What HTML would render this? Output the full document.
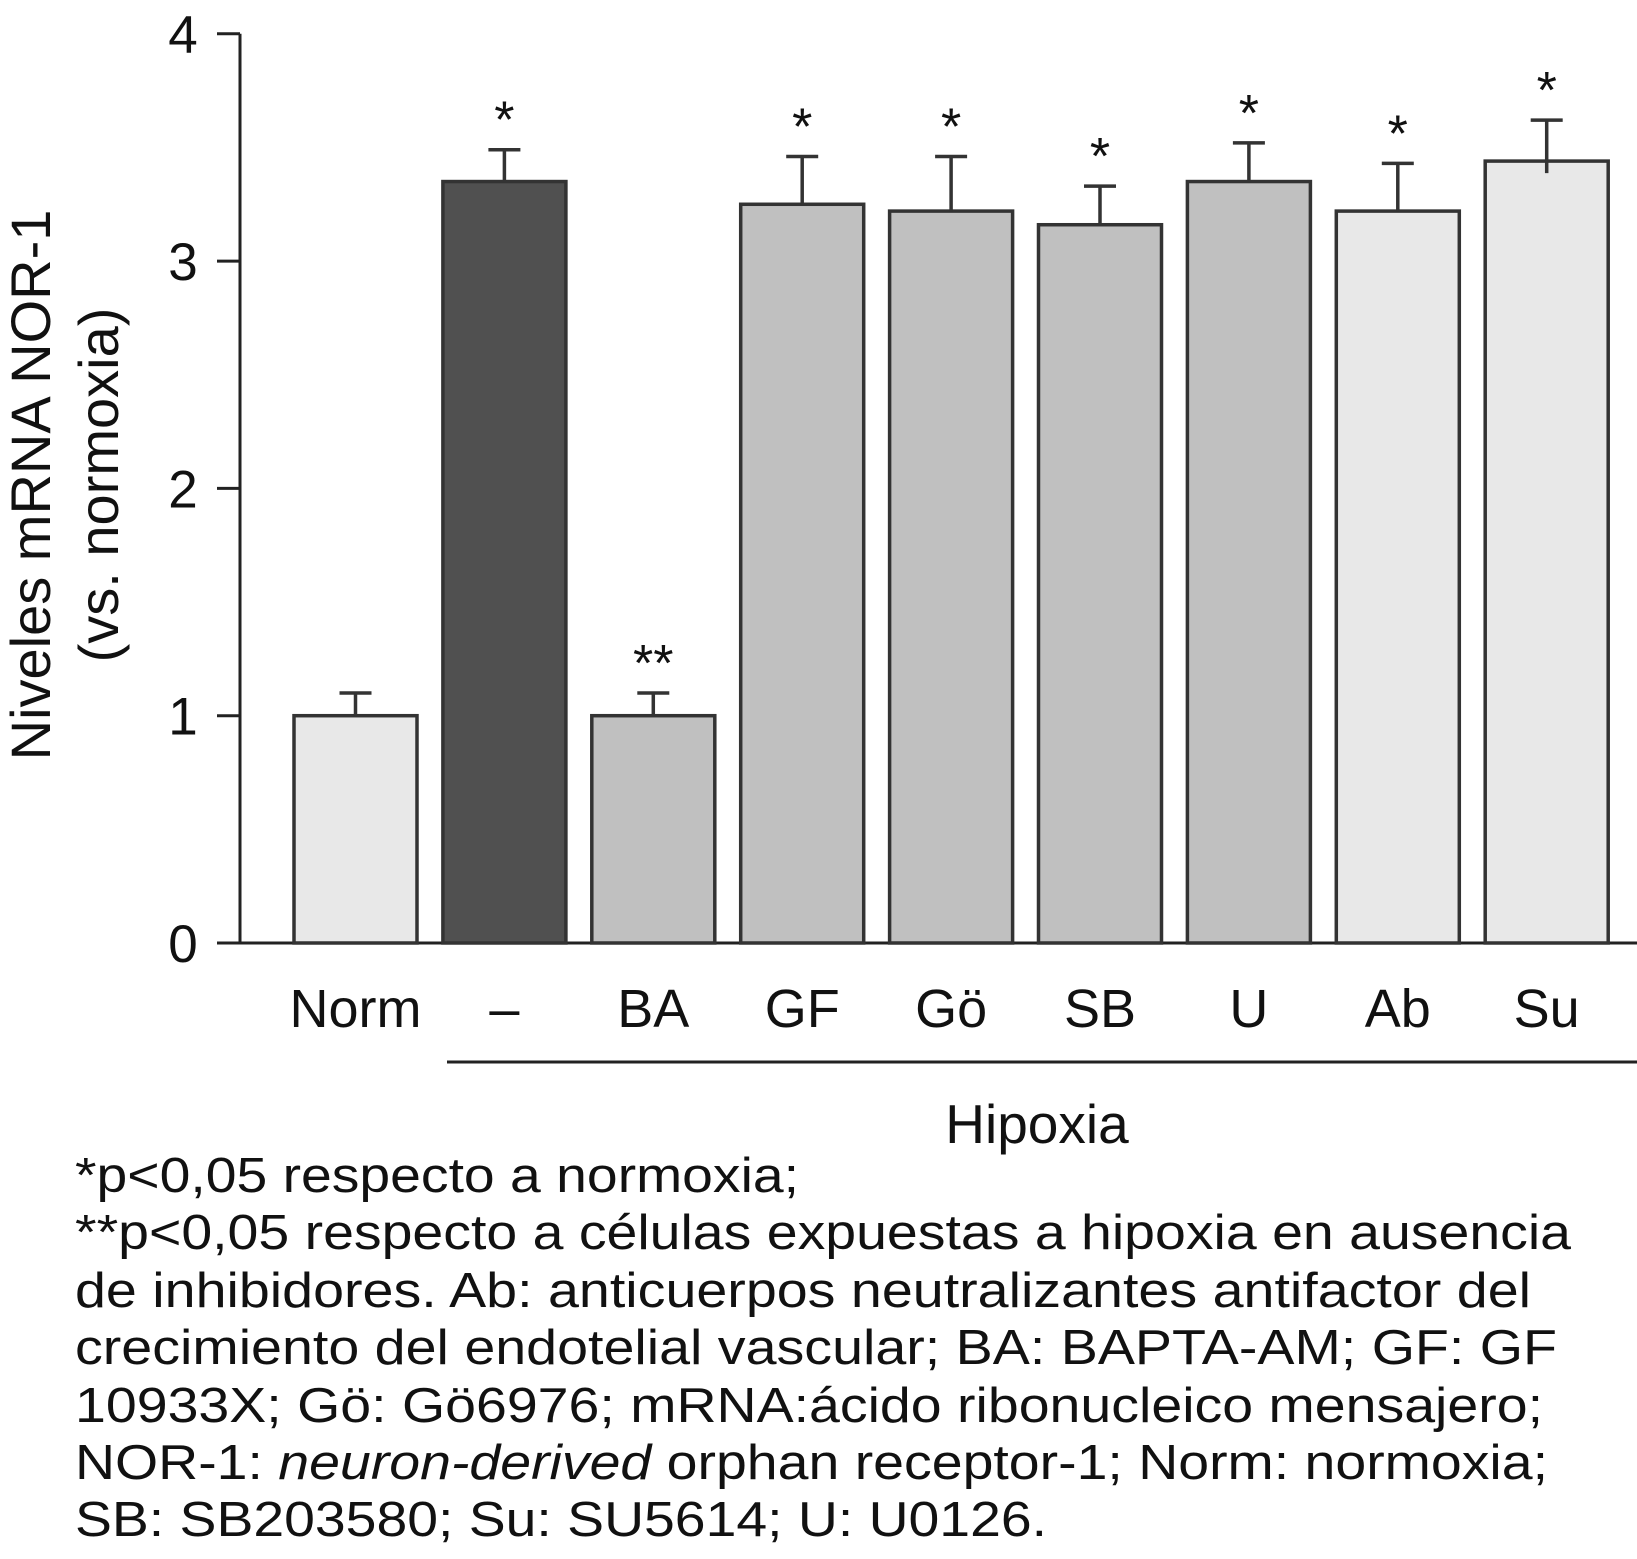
<!DOCTYPE html>
<html><head><meta charset="utf-8"><style>
html,body{margin:0;padding:0;background:#fff}
svg{display:block;font-family:"Liberation Sans",Arial,sans-serif}
</style></head><body>
<svg id="chart" width="1637" height="1559" viewBox="0 0 1637 1559">
<g id="plot"></g>
<g font-size="56" fill="#111" text-anchor="middle">
<text transform="translate(50,485) rotate(-90)">Niveles mRNA NOR-1</text>
<text transform="translate(118,485) rotate(-90)">(vs. normoxia)</text>
</g>
<line x1="447" y1="1062" x2="1637" y2="1062" stroke="#222" stroke-width="3"/>
<text x="1037" y="1143" font-size="55" text-anchor="middle" fill="#111">Hipoxia</text>
<g font-size="49" fill="#111">
<text x="75" y="1192" textLength="724" lengthAdjust="spacingAndGlyphs">*p&lt;0,05 respecto a normoxia;</text>
<text x="75" y="1249" textLength="1496" lengthAdjust="spacingAndGlyphs">**p&lt;0,05 respecto a células expuestas a hipoxia en ausencia</text>
<text x="75" y="1307" textLength="1456" lengthAdjust="spacingAndGlyphs">de inhibidores. Ab: anticuerpos neutralizantes antifactor del</text>
<text x="75" y="1364" textLength="1482" lengthAdjust="spacingAndGlyphs">crecimiento del endotelial vascular; BA: BAPTA-AM; GF: GF</text>
<text x="75" y="1422" textLength="1468" lengthAdjust="spacingAndGlyphs">10933X; Gö: Gö6976; mRNA:ácido ribonucleico mensajero;</text>
<text x="75" y="1479" textLength="1473" lengthAdjust="spacingAndGlyphs">NOR-1: <tspan font-style="italic">neuron-derived</tspan> orphan receptor-1; Norm: normoxia;</text>
<text x="75" y="1536" textLength="972" lengthAdjust="spacingAndGlyphs">SB: SB203580; Su: SU5614; U: U0126.</text>
</g>
</svg>
<script>
const categories = ["Norm","–","BA","GF","Gö","SB","U","Ab","Su"];
const values = [1.0,3.35,1.0,3.25,3.22,3.16,3.35,3.22,3.44];
const errors = [0.1,0.14,0.1,0.21,0.24,0.17,0.17,0.21,0.18];
const marks = ["","*","**","*","*","*","*","*","*"];
const fills = ["#e8e8e8","#505050","#c0c0c0","#c0c0c0","#c0c0c0","#c0c0c0","#c0c0c0","#e8e8e8","#e8e8e8"];
const yTicks = [0,1,2,3,4];

const NS="http://www.w3.org/2000/svg";
const g=document.getElementById('plot');
const X0=240, Y0=943, PU=227.3, BW=123, STEP=148.9, FIRST=294;
const y=v=>Y0-v*PU;
const xb=i=>FIRST+i*STEP;
function mk(t,a){const e=document.createElementNS(NS,t);for(const k in a)e.setAttribute(k,a[k]);g.appendChild(e);return e;}

let ax=mk('line',{x1:X0,y1:y(4),x2:X0,y2:Y0,stroke:'#222','stroke-width':3});


let xa=mk('line',{x1:217,y1:Y0,x2:1637,y2:Y0,stroke:'#222','stroke-width':3});


yTicks.forEach(t=>{
  let l=mk('line',{x1:217,y1:y(t),x2:X0,y2:y(t),stroke:'#222','stroke-width':3});
  
  
  let tx=mk('text',{x:183,y:y(t)+19,'font-size':53,'text-anchor':'middle',fill:'#111'});
  tx.textContent=t;
  
  
});
categories.forEach((c,i)=>{
  const x=xb(i), cx=x+BW/2, v=values[i], e=errors[i];
  let r=mk('rect',{x:x,y:y(v),width:BW,height:Y0-y(v),fill:fills[i],stroke:'#333','stroke-width':3.5});
  
  
  let el=mk('path',{d:`M${cx} ${y(v)+(i==8?12:0)}V${y(v+e)}M${cx-16} ${y(v+e)}H${cx+16}`,stroke:'#333','stroke-width':3.5,fill:'none'});
  
  
  if(marks[i]){
    let s=mk('text',{x:cx,y:y(v+e)-12,'font-size':52,'text-anchor':'middle',fill:'#111'});
    s.textContent=marks[i];
    
    
  }
  let lb=mk('text',{x:cx,y:1027,'font-size':54,'text-anchor':'middle',fill:'#111'});
  lb.textContent=c;
  
  
});
</script>
</body></html>
